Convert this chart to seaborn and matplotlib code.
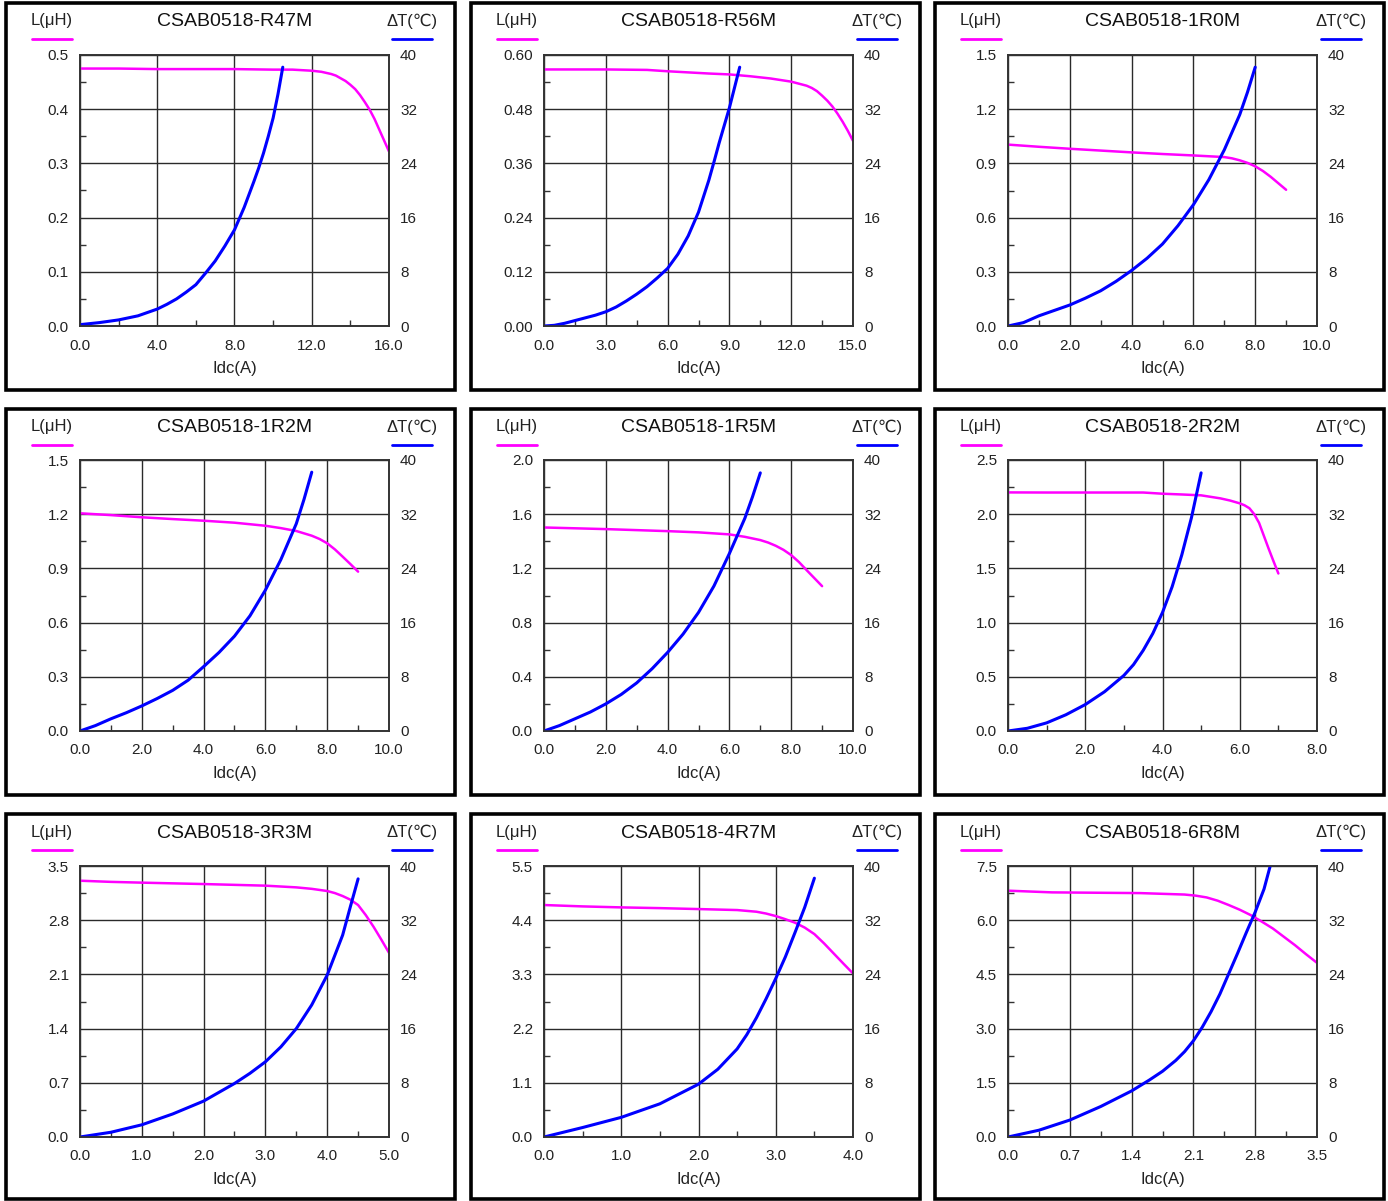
import numpy as np
import matplotlib
matplotlib.use("Agg")
import matplotlib.pyplot as plt
import seaborn as sns
from matplotlib.patches import Rectangle
from matplotlib.lines import Line2D
from matplotlib.ticker import MultipleLocator

# 1. 부품별 축 범위
parts = ['CSAB0518-R47M', 'CSAB0518-R56M', 'CSAB0518-1R0M',
         'CSAB0518-1R2M', 'CSAB0518-1R5M', 'CSAB0518-2R2M',
         'CSAB0518-3R3M', 'CSAB0518-4R7M', 'CSAB0518-6R8M']
idc_max = [16.0, 15.0, 10.0, 10.0, 10.0, 8.0, 5.0, 4.0, 3.5]
idc_step = [4.0, 3.0, 2.0, 2.0, 2.0, 2.0, 1.0, 1.0, 0.7]
l_max = [0.5, 0.6, 1.5, 1.5, 2.0, 2.5, 3.5, 5.5, 7.5]
l_decimals = [1, 2, 1, 1, 1, 1, 1, 1, 1]
temp_ticks = [0, 8, 16, 24, 32, 40]

# 2. 곡선 데이터
r47m_l_x = [0, 2, 4, 6, 8, 10, 11, 12, 12.5, 12.75, 13, 13.25, 13.5, 13.75, 14, 14.25, 14.5, 14.75, 15, 15.25, 15.5, 15.75, 16]
r47m_l_y = [0.475, 0.475, 0.474, 0.474, 0.474, 0.473, 0.473, 0.471, 0.469, 0.467, 0.465, 0.462, 0.457, 0.452, 0.445, 0.437, 0.426, 0.413, 0.399, 0.382, 0.362, 0.342, 0.322]
r47m_t_x = [0, 1, 2, 3, 4, 4.5, 5, 5.5, 6, 6.5, 7, 7.5, 8, 8.5, 9, 9.25, 9.5, 9.75, 10, 10.25, 10.5]
r47m_t_y = [0.2, 0.5, 0.9, 1.5, 2.5, 3.2, 4.0, 5.0, 6.1, 7.8, 9.6, 11.8, 14.2, 17.5, 21.3, 23.3, 25.5, 28.0, 30.7, 34.2, 38.2]

r56m_l_x = [0, 3, 5, 6, 8, 9, 10, 11, 12, 12.5, 12.75, 13, 13.25, 13.5, 13.75, 14, 14.25, 14.5, 14.75, 15]
r56m_l_y = [0.568, 0.568, 0.567, 0.564, 0.559, 0.557, 0.553, 0.548, 0.541, 0.535, 0.532, 0.527, 0.520, 0.510, 0.499, 0.486, 0.470, 0.452, 0.432, 0.410]
r56m_t_x = [0, 0.5, 1, 1.5, 2, 2.5, 3, 3.5, 4, 4.5, 5, 5.5, 6, 6.5, 7, 7.5, 8, 8.25, 8.5, 8.75, 9, 9.25, 9.5]
r56m_t_y = [0, 0.1, 0.4, 0.8, 1.2, 1.6, 2.1, 2.8, 3.7, 4.7, 5.8, 7.1, 8.5, 10.6, 13.3, 16.8, 21.5, 24.2, 27.0, 29.6, 32.2, 35.2, 38.2]

r1r0_l_x = [0, 1, 2, 3, 4, 5, 6, 7, 7.25, 7.5, 7.75, 8, 8.25, 8.5, 8.75, 9]
r1r0_l_y = [1.004, 0.992, 0.981, 0.971, 0.961, 0.952, 0.944, 0.935, 0.928, 0.917, 0.903, 0.884, 0.858, 0.826, 0.790, 0.754]
r1r0_t_x = [0, 0.5, 1, 1.5, 2, 2.5, 3, 3.5, 4, 4.5, 5, 5.5, 6, 6.5, 7, 7.5, 7.75, 8]
r1r0_t_y = [0, 0.5, 1.5, 2.3, 3.1, 4.1, 5.2, 6.6, 8.2, 10.0, 12.1, 14.8, 17.9, 21.6, 26.0, 31.2, 34.5, 38.2]

r1r2_l_x = [0, 1, 2, 3, 4, 5, 6, 6.5, 7, 7.5, 7.75, 8, 8.25, 8.5, 8.75, 9]
r1r2_l_y = [1.205, 1.195, 1.183, 1.173, 1.164, 1.153, 1.136, 1.123, 1.107, 1.081, 1.063, 1.039, 1.005, 0.965, 0.924, 0.882]
r1r2_t_x = [0, 0.5, 1, 1.5, 2, 2.5, 3, 3.5, 4, 4.5, 5, 5.5, 6, 6.5, 7, 7.25, 7.5]
r1r2_t_y = [0, 0.8, 1.8, 2.7, 3.7, 4.8, 6.0, 7.5, 9.5, 11.6, 14.0, 17.0, 20.8, 25.3, 30.6, 34.2, 38.2]

r1r5_l_x = [0, 2, 4, 5, 6, 6.5, 7, 7.25, 7.5, 7.75, 8, 8.25, 8.5, 8.75, 9]
r1r5_l_y = [1.502, 1.490, 1.475, 1.466, 1.451, 1.433, 1.409, 1.391, 1.367, 1.337, 1.298, 1.247, 1.187, 1.128, 1.069]
r1r5_t_x = [0, 0.5, 1, 1.5, 2, 2.5, 3, 3.5, 4, 4.5, 5, 5.5, 6, 6.25, 6.5, 6.75, 7]
r1r5_t_y = [0, 0.8, 1.8, 2.8, 4.0, 5.4, 7.1, 9.2, 11.6, 14.3, 17.5, 21.4, 26.2, 28.8, 31.4, 34.6, 38.1]

r2r2_l_x = [0, 1, 2, 3, 3.5, 4, 4.5, 5, 5.5, 5.75, 6, 6.125, 6.25, 6.375, 6.5, 6.625, 6.75, 6.875, 7]
r2r2_l_y = [2.201, 2.2, 2.2, 2.2, 2.2, 2.189, 2.182, 2.174, 2.146, 2.126, 2.10, 2.082, 2.055, 2.0, 1.92, 1.80, 1.68, 1.565, 1.453]
r2r2_t_x = [0, 0.5, 1, 1.5, 2, 2.5, 3, 3.25, 3.5, 3.75, 4, 4.25, 4.5, 4.75, 5]
r2r2_t_y = [0, 0.4, 1.2, 2.4, 3.9, 5.8, 8.2, 9.8, 11.9, 14.4, 17.5, 21.3, 26.0, 31.5, 38.1]

r3r3_l_x = [0, 0.5, 1, 2, 3, 3.5, 3.75, 4, 4.125, 4.25, 4.375, 4.5, 4.625, 4.75, 4.875, 5]
r3r3_l_y = [3.31, 3.295, 3.285, 3.267, 3.246, 3.224, 3.205, 3.177, 3.15, 3.112, 3.065, 2.996, 2.865, 2.715, 2.55, 2.379]
r3r3_t_x = [0, 0.5, 1, 1.5, 2, 2.5, 2.75, 3, 3.25, 3.5, 3.75, 4, 4.25, 4.375, 4.5]
r3r3_t_y = [0, 0.7, 1.8, 3.4, 5.3, 7.9, 9.4, 11.1, 13.3, 16.0, 19.5, 23.9, 29.8, 34.0, 38.1]

r4r7_l_x = [0, 0.5, 1, 1.5, 2, 2.5, 2.75, 2.875, 3, 3.125, 3.25, 3.375, 3.5, 3.625, 3.75, 3.875, 4]
r4r7_l_y = [4.708, 4.68, 4.66, 4.645, 4.626, 4.606, 4.572, 4.535, 4.484, 4.42, 4.349, 4.25, 4.118, 3.93, 3.725, 3.52, 3.319]
r4r7_t_x = [0, 0.25, 0.5, 1, 1.5, 2, 2.25, 2.5, 2.625, 2.75, 2.875, 3, 3.125, 3.25, 3.375, 3.5]
r4r7_t_y = [0, 0.7, 1.4, 2.9, 4.9, 7.8, 10.0, 13.0, 15.1, 17.6, 20.4, 23.4, 26.6, 30.2, 33.9, 38.2]

r6r8_l_x = [0, 0.5, 1, 1.5, 2, 2.125, 2.25, 2.375, 2.5, 2.625, 2.75, 2.875, 3, 3.125, 3.25, 3.375, 3.5]
r6r8_l_y = [6.817, 6.77, 6.76, 6.75, 6.71, 6.68, 6.63, 6.54, 6.42, 6.29, 6.14, 5.96, 5.77, 5.54, 5.31, 5.06, 4.82]
r6r8_t_x = [0, 0.35, 0.7, 1.05, 1.4, 1.6, 1.75, 1.9, 2.0, 2.1, 2.2, 2.3, 2.4, 2.5, 2.6, 2.7, 2.8, 2.9, 2.97]
r6r8_t_y = [0, 1.0, 2.5, 4.5, 6.8, 8.4, 9.7, 11.3, 12.6, 14.2, 16.2, 18.5, 21.1, 24.1, 27.1, 30.2, 33.2, 36.6, 40.0]

curves = [
    (r47m_l_x, r47m_l_y, r47m_t_x, r47m_t_y),
    (r56m_l_x, r56m_l_y, r56m_t_x, r56m_t_y),
    (r1r0_l_x, r1r0_l_y, r1r0_t_x, r1r0_t_y),
    (r1r2_l_x, r1r2_l_y, r1r2_t_x, r1r2_t_y),
    (r1r5_l_x, r1r5_l_y, r1r5_t_x, r1r5_t_y),
    (r2r2_l_x, r2r2_l_y, r2r2_t_x, r2r2_t_y),
    (r3r3_l_x, r3r3_l_y, r3r3_t_x, r3r3_t_y),
    (r4r7_l_x, r4r7_l_y, r4r7_t_x, r4r7_t_y),
    (r6r8_l_x, r6r8_l_y, r6r8_t_x, r6r8_t_y),
]

# 3. 스타일
sns.set_theme(style="white")
plt.rcParams['font.family'] = ['Liberation Sans', 'DejaVu Sans']
L_COLOR = '#FF00FF'
T_COLOR = '#0000FF'
GRID = '#2a2a2a'

W, H = 1388, 1201
fig = plt.figure(figsize=(W / 100, H / 100), dpi=100)

# 픽셀 단위 배치
col_frame = [6, 471, 935]
row_frame = [3, 409, 814]
frame_w = 449
frame_h = [387, 386, 385]
col_ax = [80, 544, 1008]
row_ax = [55, 460, 866]
ax_w, ax_h = 309, 271


def fpt(x, y):
    return x / W, 1 - y / H


for i, part in enumerate(parts):
    r, c = divmod(i, 3)
    x0, y0 = col_frame[c], row_frame[r]

    # 패널 테두리
    fig.add_artist(Rectangle(fpt(x0, y0 + frame_h[r]), frame_w / W, frame_h[r] / H,
                             transform=fig.transFigure, fill=False, lw=2.6, ec='black'))

    ax = fig.add_axes([col_ax[c] / W, 1 - (row_ax[r] + ax_h) / H, ax_w / W, ax_h / H])
    axt = ax.twinx()

    lx, ly, tx, ty = curves[i]
    sns.lineplot(x=lx, y=ly, ax=ax, color=L_COLOR, lw=1.8)
    sns.lineplot(x=tx, y=ty, ax=axt, color=T_COLOR, lw=2.2)

    # x축
    xt = np.arange(0, idc_max[i] + 1e-9, idc_step[i])
    ax.set_xlim(0, idc_max[i])
    ax.set_xticks(xt)
    ax.set_xticklabels([f'{v:.1f}' for v in xt])
    ax.xaxis.set_minor_locator(MultipleLocator(idc_step[i] / 2))

    # 왼쪽 L 축
    lt = np.linspace(0, l_max[i], 6)
    ax.set_ylim(0, l_max[i])
    ax.set_yticks(lt)
    ax.set_yticklabels([f'{v:.{l_decimals[i]}f}' for v in lt])
    ax.yaxis.set_minor_locator(MultipleLocator(l_max[i] / 10))

    # 오른쪽 온도 축
    axt.set_ylim(0, 40)
    axt.set_yticks(temp_ticks)
    axt.set_yticklabels([str(v) for v in temp_ticks])

    ax.grid(True, which='major', color=GRID, lw=1.0)
    axt.grid(False)
    ax.tick_params(which='major', length=0, labelsize=11, labelcolor='#222')
    ax.tick_params(axis='x', which='major', pad=9)
    ax.tick_params(axis='y', which='major', pad=8)
    ax.tick_params(which='minor', direction='in', length=4, width=1, color='#333',
                   bottom=True, left=True, top=False, right=False)
    axt.tick_params(which='major', length=0, labelsize=11, labelcolor='#222', pad=8)

    for a in (ax, axt):
        for s in a.spines.values():
            s.set_visible(True)
            s.set_color('#333')
            s.set_linewidth(1.2)

    ax.set_xlabel('Idc(A)', fontsize=12, labelpad=6, color='#222')
    ax.set_ylabel('')
    axt.set_ylabel('')

    # 제목과 범례 텍스트
    cx = col_ax[c] + ax_w / 2
    fig.text(*fpt(cx, y0 + 19), part, ha='center', va='center', fontsize=14, color='#111')
    fig.text(*fpt(x0 + 46, y0 + 18), 'L(μH)', ha='center', va='center', fontsize=12, color='#222')
    fig.text(*fpt(x0 + 406, y0 + 18), 'ΔT(℃)', ha='center', va='center', fontsize=12, color='#222')
    ly_leg = 1 - (y0 + 36) / H
    fig.add_artist(Line2D([(x0 + 26) / W, (x0 + 66) / W], [ly_leg, ly_leg],
                          transform=fig.transFigure, color=L_COLOR, lw=2))
    fig.add_artist(Line2D([(x0 + 386) / W, (x0 + 426) / W], [ly_leg, ly_leg],
                          transform=fig.transFigure, color=T_COLOR, lw=2))

fig.savefig('out.png', dpi=100)
